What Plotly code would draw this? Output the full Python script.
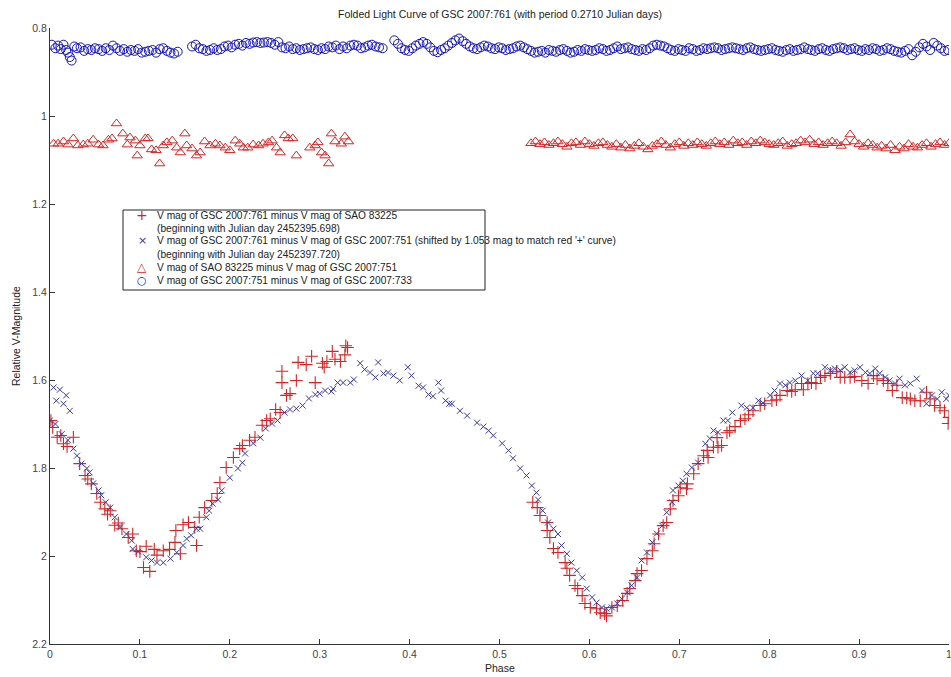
import plotly.graph_objects as go

# ---------------- data ----------------
plus_x = [0.001, 0.003, 0.008, 0.012, 0.015, 0.019, 0.026, 0.033, 0.039, 0.042, 0.046, 0.052, 0.056,
          0.061, 0.064, 0.067, 0.072, 0.076, 0.080, 0.087, 0.092, 0.096, 0.100, 0.104, 0.107, 0.111,
          0.116, 0.119, 0.126, 0.133, 0.139, 0.140, 0.145, 0.148, 0.154, 0.161, 0.163, 0.166, 0.172,
          0.180, 0.186, 0.189, 0.196, 0.204, 0.211, 0.214, 0.222, 0.228, 0.236, 0.241, 0.245, 0.251,
          0.256, 0.258, 0.258, 0.263, 0.267, 0.274, 0.276, 0.285, 0.291, 0.295, 0.303, 0.305, 0.308,
          0.314, 0.317, 0.323, 0.328, 0.329, 0.331,
          0.537, 0.542, 0.545, 0.553, 0.553, 0.556, 0.560, 0.565, 0.573, 0.575, 0.578, 0.584, 0.587,
          0.592, 0.595, 0.601, 0.608, 0.612, 0.617, 0.619, 0.625, 0.631, 0.637, 0.642, 0.645, 0.651,
          0.653, 0.658, 0.664, 0.670, 0.672, 0.677, 0.682, 0.686, 0.690, 0.693, 0.699, 0.701, 0.708,
          0.709, 0.716, 0.721, 0.727, 0.731, 0.732, 0.738, 0.742, 0.743, 0.747, 0.753, 0.756, 0.762,
          0.768, 0.773, 0.777, 0.782, 0.790, 0.795, 0.803, 0.808, 0.812, 0.820, 0.825, 0.829, 0.836,
          0.838, 0.843, 0.847, 0.852, 0.857, 0.862, 0.868, 0.875, 0.879, 0.884, 0.890, 0.895, 0.903,
          0.910, 0.916, 0.920, 0.927, 0.932, 0.937, 0.942, 0.948, 0.953, 0.957, 0.962, 0.968, 0.975,
          0.979, 0.984, 0.990, 0.995, 0.999, 1.000]
plus_y = [1.692, 1.708, 1.730, 1.726, 1.745, 1.751, 1.730, 1.790, 1.817, 1.825, 1.836, 1.858, 1.878,
          1.893, 1.905, 1.897, 1.930, 1.925, 1.938, 1.958, 1.950, 1.988, 1.990, 2.026, 1.978, 2.035,
          1.985, 1.998, 1.988, 1.985, 1.969, 1.942, 1.995, 1.929, 1.924, 1.935, 1.976, 1.912, 1.890,
          1.874, 1.858, 1.833, 1.799, 1.776, 1.756, 1.749, 1.737, 1.730, 1.703, 1.692, 1.688, 1.667,
          1.674, 1.606, 1.580, 1.635, 1.631, 1.601, 1.560, 1.565, 1.546, 1.606, 1.562, 1.571, 1.558,
          1.535, 1.553, 1.558, 1.543, 1.522, 1.526,
          1.878, 1.890, 1.908, 1.924, 1.942, 1.958, 1.983, 1.992, 2.015, 2.028, 2.044, 2.067, 2.074,
          2.090, 2.108, 2.117, 2.120, 2.129, 2.131, 2.136, 2.117, 2.113, 2.101, 2.085, 2.074, 2.056,
          2.040, 2.033, 2.006, 1.988, 1.972, 1.950, 1.931, 1.924, 1.893, 1.874, 1.863, 1.845, 1.847,
          1.836, 1.813, 1.790, 1.772, 1.760, 1.776, 1.753, 1.731, 1.753, 1.749, 1.720, 1.715, 1.706,
          1.692, 1.688, 1.679, 1.670, 1.658, 1.654, 1.647, 1.645, 1.635, 1.624, 1.626, 1.622, 1.608,
          1.622, 1.608, 1.606, 1.608, 1.594, 1.590, 1.585, 1.580, 1.594, 1.594, 1.594, 1.592, 1.601,
          1.608, 1.590, 1.597, 1.601, 1.608, 1.624, 1.612, 1.640, 1.641, 1.643, 1.647, 1.647, 1.628,
          1.643, 1.658, 1.663, 1.670, 1.699, 1.685]

cross_x = [0.000, 0.004, 0.006, 0.007, 0.011, 0.013, 0.015, 0.018, 0.020, 0.022, 0.026, 0.030, 0.035,
           0.041, 0.044, 0.048, 0.054, 0.057, 0.062, 0.067, 0.072, 0.078, 0.085, 0.091, 0.092, 0.098,
           0.107, 0.113, 0.119, 0.126, 0.134, 0.141, 0.148, 0.152, 0.157, 0.163, 0.167, 0.174, 0.177,
           0.181, 0.187, 0.191, 0.200, 0.209, 0.214, 0.217, 0.226, 0.234, 0.240, 0.247, 0.253, 0.261,
           0.267, 0.274, 0.281, 0.288, 0.295, 0.300, 0.306, 0.313, 0.315, 0.320, 0.326, 0.334, 0.338,
           0.345, 0.350, 0.356, 0.362, 0.365, 0.371, 0.376, 0.382, 0.389, 0.398, 0.402, 0.410, 0.415,
           0.421, 0.426, 0.432, 0.435, 0.440, 0.444, 0.447, 0.456, 0.464, 0.475, 0.482, 0.488, 0.493,
           0.503, 0.510, 0.515, 0.523, 0.530, 0.536, 0.541, 0.543, 0.548, 0.554, 0.560, 0.565, 0.569,
           0.575, 0.580, 0.586, 0.592, 0.597, 0.603, 0.608, 0.614, 0.619, 0.625, 0.631, 0.636, 0.642,
           0.647, 0.653, 0.658, 0.664, 0.670, 0.675, 0.681, 0.686, 0.692, 0.693, 0.699, 0.704, 0.708,
           0.714, 0.721, 0.729, 0.734, 0.738, 0.743, 0.749, 0.754, 0.759, 0.769, 0.775, 0.782, 0.788,
           0.793, 0.801, 0.806, 0.812, 0.818, 0.823, 0.829, 0.836, 0.843, 0.849, 0.854, 0.862, 0.868,
           0.873, 0.879, 0.884, 0.890, 0.895, 0.901, 0.907, 0.912, 0.918, 0.923, 0.929, 0.934, 0.940,
           0.945, 0.951, 0.957, 0.964, 0.970, 0.975, 0.981, 0.987, 0.992, 0.997, 1.000]
cross_y = [1.692, 1.617, 1.700, 1.647, 1.622, 1.723, 1.654, 1.635, 1.737, 1.670, 1.756, 1.772, 1.790,
           1.801, 1.810, 1.835, 1.851, 1.862, 1.878, 1.890, 1.912, 1.935, 1.950, 1.965, 1.984, 1.990,
           2.003, 2.010, 2.015, 2.015, 2.006, 1.992, 1.976, 1.961, 1.953, 1.938, 1.938, 1.912, 1.897,
           1.881, 1.872, 1.851, 1.822, 1.801, 1.788, 1.767, 1.744, 1.731, 1.710, 1.699, 1.692, 1.674,
           1.667, 1.665, 1.658, 1.642, 1.633, 1.631, 1.624, 1.626, 1.620, 1.606, 1.606, 1.606, 1.599,
           1.562, 1.576, 1.583, 1.594, 1.560, 1.585, 1.583, 1.590, 1.601, 1.571, 1.590, 1.613, 1.617,
           1.633, 1.637, 1.606, 1.624, 1.647, 1.654, 1.654, 1.670, 1.681, 1.697, 1.706, 1.715, 1.726,
           1.744, 1.760, 1.778, 1.801, 1.817, 1.840, 1.856, 1.872, 1.897, 1.924, 1.938, 1.950, 1.976,
           1.995, 2.015, 2.033, 2.049, 2.074, 2.094, 2.106, 2.117, 2.120, 2.117, 2.108, 2.097, 2.083,
           2.067, 2.049, 2.010, 1.992, 1.969, 1.949, 1.931, 1.901, 1.878, 1.851, 1.840, 1.829, 1.813,
           1.799, 1.788, 1.745, 1.733, 1.715, 1.719, 1.692, 1.692, 1.674, 1.658, 1.663, 1.663, 1.647,
           1.652, 1.635, 1.624, 1.608, 1.612, 1.606, 1.601, 1.590, 1.601, 1.585, 1.585, 1.571, 1.578,
           1.574, 1.578, 1.571, 1.583, 1.578, 1.571, 1.583, 1.585, 1.574, 1.585, 1.594, 1.601, 1.608,
           1.597, 1.612, 1.608, 1.597, 1.624, 1.654, 1.635, 1.643, 1.628, 1.643, 1.635]

tri_x = [0.004, 0.009, 0.015, 0.020, 0.026, 0.031, 0.037, 0.042, 0.048, 0.054, 0.059, 0.065, 0.069,
         0.074, 0.081, 0.086, 0.089, 0.095, 0.097, 0.100, 0.106, 0.109, 0.113, 0.118, 0.122, 0.126,
         0.130, 0.136, 0.141, 0.145, 0.150, 0.152, 0.158, 0.163, 0.167, 0.172, 0.178, 0.184, 0.189,
         0.195, 0.200, 0.206, 0.211, 0.215, 0.220, 0.226, 0.232, 0.237, 0.243, 0.247, 0.252, 0.256,
         0.261, 0.265, 0.270, 0.274, 0.289, 0.295, 0.298, 0.302, 0.306, 0.310, 0.313, 0.317, 0.324,
         0.328, 0.332,
         0.535, 0.540, 0.545, 0.550, 0.555, 0.560, 0.565, 0.570, 0.575, 0.580,
         0.585, 0.590, 0.595, 0.600, 0.605, 0.610, 0.615, 0.620, 0.625, 0.630,
         0.635, 0.640, 0.645, 0.650, 0.655, 0.660, 0.665, 0.670, 0.675, 0.680,
         0.685, 0.690, 0.695, 0.700, 0.705, 0.710, 0.715, 0.720, 0.725, 0.730,
         0.735, 0.740, 0.745, 0.750, 0.755, 0.760, 0.765, 0.770, 0.775, 0.780,
         0.785, 0.790, 0.795, 0.800, 0.805, 0.810, 0.815, 0.820, 0.825, 0.830,
         0.835, 0.840, 0.845, 0.850, 0.855, 0.860, 0.865, 0.870, 0.875, 0.880,
         0.885, 0.890, 0.895, 0.900, 0.905, 0.910, 0.915, 0.920, 0.925, 0.930,
         0.935, 0.940, 0.945, 0.950, 0.955, 0.960, 0.965, 0.970, 0.975, 0.980,
         0.985, 0.990, 0.995, 1.000]
tri_y = [1.063, 1.063, 1.058, 1.065, 1.051, 1.067, 1.065, 1.063, 1.054, 1.065, 1.067, 1.054, 1.051,
         1.017, 1.040, 1.065, 1.049, 1.056, 1.090, 1.067, 1.051, 1.051, 1.076, 1.078, 1.108, 1.067,
         1.060, 1.056, 1.072, 1.083, 1.040, 1.067, 1.074, 1.090, 1.083, 1.058, 1.067, 1.063, 1.067,
         1.072, 1.078, 1.056, 1.063, 1.072, 1.072, 1.065, 1.067, 1.063, 1.060, 1.056, 1.072, 1.083,
         1.044, 1.051, 1.051, 1.090, 1.072, 1.067, 1.060, 1.083, 1.090, 1.108, 1.040, 1.058, 1.063,
         1.047, 1.058,
         1.062, 1.058, 1.064, 1.060, 1.066, 1.062, 1.058, 1.064, 1.070, 1.062,
         1.060, 1.066, 1.058, 1.064, 1.068, 1.062, 1.060, 1.066, 1.070, 1.064,
         1.072, 1.066, 1.074, 1.068, 1.062, 1.070, 1.076, 1.068, 1.064, 1.058,
         1.066, 1.072, 1.064, 1.060, 1.068, 1.062, 1.066, 1.060, 1.064, 1.068,
         1.062, 1.058, 1.064, 1.060, 1.066, 1.056, 1.062, 1.060, 1.066, 1.058,
         1.062, 1.056, 1.060, 1.064, 1.066, 1.062, 1.058, 1.068, 1.064, 1.062,
         1.056, 1.060, 1.054, 1.064, 1.060, 1.066, 1.062, 1.058, 1.062, 1.068,
         1.060, 1.042, 1.058, 1.064, 1.070, 1.062, 1.066, 1.072, 1.068, 1.074,
         1.066, 1.078, 1.070, 1.074, 1.064, 1.070, 1.072, 1.066, 1.062, 1.070,
         1.064, 1.060, 1.066, 1.062]

circ_x = [0.002, 0.006, 0.009, 0.012, 0.015, 0.018, 0.020, 0.022, 0.024, 0.027, 0.030, 0.034, 0.038,
          0.042, 0.046, 0.050, 0.054, 0.058, 0.062, 0.066, 0.070, 0.074, 0.078, 0.082, 0.086, 0.090,
          0.094, 0.098, 0.102, 0.106, 0.110, 0.114, 0.118, 0.122, 0.126, 0.130, 0.134, 0.138, 0.142,
          0.158, 0.162, 0.166, 0.170, 0.174, 0.178, 0.182, 0.186, 0.190, 0.194, 0.198, 0.202, 0.206,
          0.210, 0.214, 0.218, 0.222, 0.226, 0.230, 0.234, 0.238, 0.242, 0.246, 0.250, 0.254, 0.258,
          0.262, 0.266, 0.270, 0.274, 0.278, 0.282, 0.286, 0.290, 0.294, 0.298, 0.302, 0.306, 0.310,
          0.314, 0.318, 0.322, 0.326, 0.330, 0.334, 0.338, 0.342, 0.346, 0.350, 0.354, 0.358, 0.362,
          0.366, 0.370,
          0.383, 0.387, 0.391, 0.395, 0.399, 0.403, 0.407, 0.411, 0.415, 0.419, 0.423, 0.427, 0.431,
          0.435, 0.439, 0.443, 0.447, 0.451, 0.455, 0.459, 0.463, 0.467, 0.471, 0.475, 0.479, 0.483,
          0.487, 0.491, 0.495, 0.499, 0.503, 0.507, 0.511, 0.515, 0.519, 0.523, 0.527, 0.531, 0.535,
          0.539, 0.543, 0.547, 0.551, 0.555, 0.559, 0.563, 0.567, 0.571, 0.575, 0.579, 0.583, 0.587,
          0.591, 0.595, 0.599, 0.603, 0.607, 0.611, 0.615, 0.619, 0.623, 0.627, 0.631, 0.635, 0.639,
          0.643, 0.647, 0.651, 0.655, 0.659, 0.663, 0.667, 0.671, 0.675, 0.679, 0.683, 0.687, 0.691,
          0.695, 0.699, 0.703, 0.707, 0.711, 0.715, 0.719, 0.723, 0.727, 0.731, 0.735, 0.739, 0.743,
          0.747, 0.751, 0.755, 0.759, 0.763, 0.767, 0.771, 0.775, 0.779, 0.783, 0.787, 0.791, 0.795,
          0.799, 0.803, 0.807, 0.811, 0.815, 0.819, 0.823, 0.827, 0.831, 0.835, 0.839, 0.843, 0.847,
          0.851, 0.855, 0.859, 0.863, 0.867, 0.871, 0.875, 0.879, 0.883, 0.887, 0.891, 0.895, 0.899,
          0.903, 0.907, 0.911, 0.915, 0.919, 0.923, 0.927, 0.931, 0.935, 0.939, 0.943, 0.947, 0.951,
          0.955, 0.959, 0.963, 0.967, 0.971, 0.975, 0.979, 0.983, 0.987, 0.991, 0.995, 0.999]
circ_y = [0.838, 0.846, 0.840, 0.848, 0.838, 0.850, 0.856, 0.866, 0.874, 0.842, 0.846, 0.844, 0.852,
          0.848, 0.850, 0.846, 0.848, 0.852, 0.846, 0.850, 0.840, 0.846, 0.852, 0.848, 0.854, 0.850,
          0.852, 0.848, 0.856, 0.854, 0.852, 0.850, 0.856, 0.848, 0.846, 0.852, 0.856, 0.858, 0.854,
          0.842, 0.838, 0.846, 0.848, 0.852, 0.850, 0.846, 0.850, 0.848, 0.842, 0.840, 0.844, 0.838,
          0.836, 0.840, 0.834, 0.836, 0.833, 0.832, 0.834, 0.833, 0.832, 0.834, 0.838, 0.832, 0.844,
          0.846, 0.842, 0.848, 0.846, 0.850, 0.848, 0.846, 0.844, 0.848, 0.850, 0.846, 0.848, 0.842,
          0.844, 0.840, 0.848, 0.842, 0.846, 0.840, 0.838, 0.840, 0.846, 0.844, 0.840, 0.838, 0.842,
          0.844, 0.846,
          0.828, 0.836, 0.846, 0.850, 0.852, 0.846,
          0.840, 0.836, 0.832, 0.836, 0.844, 0.852, 0.855, 0.850, 0.846,
          0.840, 0.834, 0.828, 0.824, 0.830, 0.836, 0.842, 0.846, 0.848, 0.844,
          0.840, 0.842, 0.846, 0.848, 0.844, 0.846, 0.850, 0.848, 0.846, 0.842, 0.840, 0.844,
          0.848, 0.852, 0.856, 0.854, 0.852, 0.856, 0.850, 0.852, 0.854, 0.850, 0.848, 0.852, 0.856,
          0.854, 0.850,
          0.852, 0.848, 0.850, 0.852, 0.850, 0.846, 0.848, 0.852, 0.850, 0.846, 0.842, 0.848, 0.846,
          0.844, 0.848, 0.850, 0.852, 0.848, 0.850, 0.846,
          0.840, 0.838, 0.840, 0.842, 0.846, 0.850, 0.852, 0.848, 0.850, 0.852, 0.846, 0.848, 0.852,
          0.850, 0.846,
          0.848, 0.846, 0.844, 0.846, 0.850, 0.848, 0.846, 0.844, 0.846, 0.848, 0.850, 0.846, 0.844,
          0.848, 0.850,
          0.852, 0.850, 0.848, 0.846, 0.850, 0.852, 0.854, 0.850, 0.848, 0.852, 0.850, 0.848, 0.844,
          0.848, 0.850, 0.852,
          0.848, 0.846, 0.850, 0.852, 0.848, 0.846, 0.844, 0.846, 0.850, 0.848, 0.846, 0.850, 0.852,
          0.848, 0.850,
          0.846, 0.848, 0.852, 0.850, 0.846, 0.848, 0.852, 0.854, 0.856, 0.852, 0.848, 0.862, 0.854,
          0.844, 0.836, 0.842, 0.850, 0.834, 0.840, 0.846, 0.852, 0.850]

x_ticks = [0, 0.1, 0.2, 0.3, 0.4, 0.5, 0.6, 0.7, 0.8, 0.9, 1]
x_tick_labels = ["0", "0.1", "0.2", "0.3", "0.4", "0.5", "0.6", "0.7", "0.8", "0.9", "1"]
y_ticks = [0.8, 1.0, 1.2, 1.4, 1.6, 1.8, 2.0, 2.2]
y_tick_labels = ["0.8", "1", "1.2", "1.4", "1.6", "1.8", "2", "2.2"]

legend_lines = [
    "V mag of GSC 2007:761 minus V mag of SAO 83225",
    "(beginning with Julian day 2452395.698)",
    "V mag of GSC 2007:761 minus V mag of GSC 2007:751 (shifted by 1.053 mag to match red '+' curve)",
    "(beginning with Julian day 2452397.720)",
    "V mag of SAO 83225 minus V mag of GSC 2007:751",
    "V mag of GSC 2007:751 minus V mag of GSC 2007:733",
]
series_names = [
    "V mag of GSC 2007:761 minus V mag of SAO 83225",
    "V mag of GSC 2007:761 minus V mag of GSC 2007:751 (shifted)",
    "V mag of SAO 83225 minus V mag of GSC 2007:751",
    "V mag of GSC 2007:751 minus V mag of GSC 2007:733",
]
title_text = "Folded Light Curve of GSC 2007:761 (with period 0.2710 Julian days)"

# ---------------- figure ----------------
RED = "rgb(214,36,36)"
BLUE = "rgb(20,20,190)"
BLUE_X = "rgb(55,55,160)"
FONT = "Arial, Liberation Sans, sans-serif"
TXT = "#222"

# the page's body margin is removed (post_script), so the figure fills the window exactly
W, H = 951, 677
L, T = 50, 28
PW, PH = 899, 616


def px_x(p):  # page pixel -> paper x
    return (p - L) / PW


def px_y(p):  # page pixel -> paper y
    return (T + PH - p) / PH


fig = go.Figure()
fig.add_trace(go.Scatter(x=plus_x, y=plus_y, mode="markers", name=series_names[0],
                         marker=dict(symbol="cross-thin-open", size=9, line=dict(color=RED, width=1.1), color=RED)))
fig.add_trace(go.Scatter(x=cross_x, y=cross_y, mode="markers", name=series_names[1],
                         marker=dict(symbol="x-thin-open", size=6, line=dict(color=BLUE_X, width=1), color=BLUE_X)))
fig.add_trace(go.Scatter(x=tri_x, y=tri_y, mode="markers", name=series_names[2],
                         marker=dict(symbol="triangle-up-open", size=9, line=dict(color=RED, width=1), color=RED)))
fig.add_trace(go.Scatter(x=circ_x, y=circ_y, mode="markers", name=series_names[3],
                         marker=dict(symbol="circle-open", size=9, line=dict(color=BLUE, width=1), color=BLUE)))

axis_common = dict(showgrid=False, zeroline=False, showline=True, linecolor="#333", linewidth=1,
                   ticks="inside", ticklen=5, tickcolor="#333", mirror=False,
                   ticklabeloverflow="allow",
                   tickfont=dict(family=FONT, size=10.5, color="#444"))

annotations = [
    dict(text=title_text, x=0.5, y=1, xref="paper", yref="paper", xanchor="center", yanchor="bottom",
         yshift=6, showarrow=False, font=dict(family=FONT, size=10.5, color=TXT)),
    dict(text="Phase", x=0.5, y=0, xref="paper", yref="paper", xanchor="center", yanchor="top",
         yshift=-16, showarrow=False, font=dict(family=FONT, size=10.5, color=TXT)),
    dict(text="Relative V-Magnitude", x=0, y=0.5, xref="paper", yref="paper", xanchor="right",
         yanchor="middle", xshift=-26, textangle=-90, showarrow=False,
         font=dict(family=FONT, size=10.5, color=TXT)),
]

# legend (drawn manually so that the box keeps the reference size)
row_y = [215, 228, 241, 254, 267, 280]
for txt, ry in zip(legend_lines, row_y):
    annotations.append(dict(text=txt, x=px_x(155), y=px_y(ry), xref="paper", yref="paper",
                            xanchor="left", yanchor="middle", showarrow=False,
                            font=dict(family=FONT, size=10.2, color=TXT)))
legend_symbols = [("+", RED, 215, 14), ("×", BLUE_X, 241, 11), ("△", RED, 267, 12), ("○", BLUE, 280, 11)]
for sym, col, ry, fs in legend_symbols:
    annotations.append(dict(text=sym, x=px_x(142), y=px_y(ry), xref="paper", yref="paper",
                            xanchor="center", yanchor="middle", showarrow=False,
                            font=dict(family="DejaVu Sans", size=fs, color=col)))

fig.update_layout(
    width=W, height=H,
    margin=dict(l=L, r=W - L - PW, t=T, b=H - T - PH, autoexpand=False),
    paper_bgcolor="white", plot_bgcolor="white",
    font=dict(family=FONT, size=10.5, color="#333"),
    xaxis=dict(range=[0, 1], tickvals=x_ticks, ticktext=x_tick_labels, **axis_common),
    yaxis=dict(range=[2.2, 0.8], tickvals=y_ticks, ticktext=y_tick_labels, **axis_common),
    showlegend=False,
    shapes=[dict(type="rect", xref="paper", yref="paper", x0=px_x(123), x1=px_x(485),
                 y0=px_y(290), y1=px_y(210), line=dict(color="#222", width=1), layer="above")],
    annotations=annotations,
)

fig.write_html("out.html",
               config={"displayModeBar": False},
               post_script="document.body.style.margin='0';document.body.style.overflow='hidden';")
